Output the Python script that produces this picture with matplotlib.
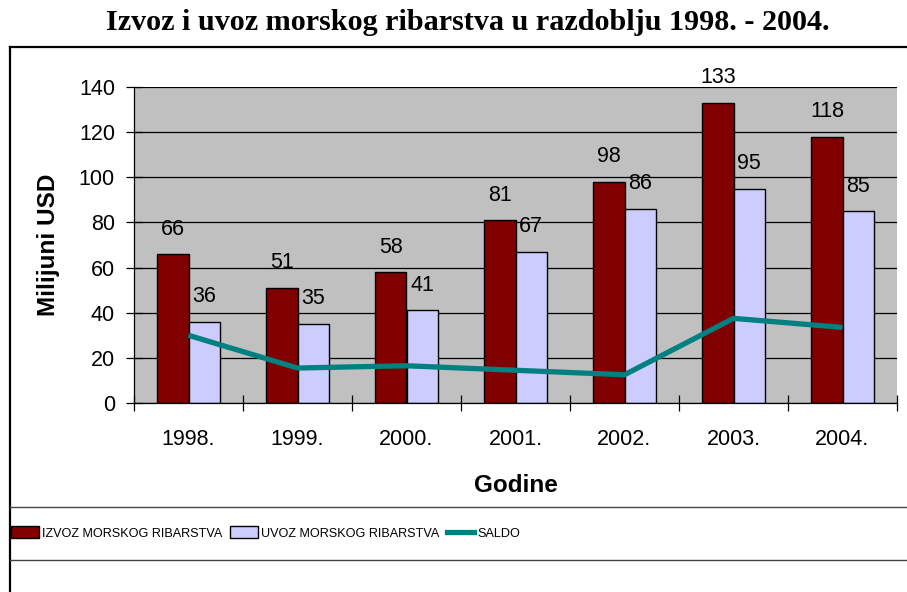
import matplotlib.pyplot as plt
import numpy as np
from matplotlib.lines import Line2D
from matplotlib.patches import Patch

godine = ["1998.", "1999.", "2000.", "2001.", "2002.", "2003.", "2004."]
izvoz = [66, 51, 58, 81, 98, 133, 118]
uvoz = [36, 35, 41, 67, 86, 95, 85]
saldo = [30, 15.5, 16.5, 14.5, 12.5, 37.5, 33.5]

plt.rcParams["font.family"] = ["Liberation Sans", "DejaVu Sans"]

fig = plt.figure(figsize=(9.07, 5.92), dpi=100)
ax = fig.add_axes([134 / 907, 1 - 403 / 592, 763 / 907, 316 / 592])

x = np.arange(len(godine))
w = 0.285
ax.set_facecolor("#C0C0C0")
ax.bar(x - w / 2, izvoz, w, color="#800000", edgecolor="black", linewidth=1.0, zorder=2)
ax.bar(x + w / 2, uvoz, w, color="#CCCCFF", edgecolor="black", linewidth=1.0, zorder=2)
ax.plot(x, saldo, color="#008080", linewidth=3.8, zorder=3, solid_capstyle="butt")

for i in range(len(godine)):
    ax.annotate(str(izvoz[i]), (x[i] - w / 2, izvoz[i]), xytext=(0, 18),
                textcoords="offset points", ha="center", va="center", fontsize=15.5)
    ax.annotate(str(uvoz[i]), (x[i] + w / 2, uvoz[i]), xytext=(0, 18),
                textcoords="offset points", ha="center", va="center", fontsize=15.5)

ax.set_xlim(-0.5, 6.5)
ax.set_ylim(0, 140)
ax.set_yticks(range(0, 141, 20))
ax.yaxis.grid(True, color="black", linewidth=0.9, zorder=1)
ax.set_axisbelow(True)

ax.set_xticks(np.arange(-0.5, 7, 1))
ax.set_xticklabels([])
ax.set_xticks(x, minor=True)
ax.set_xticklabels(godine, minor=True)
ax.tick_params(axis="x", which="major", direction="inout", length=11.5, width=0.9)
ax.tick_params(axis="x", which="minor", length=0, pad=19, labelsize=15.5)
ax.tick_params(axis="y", direction="inout", length=11.5, width=0.9, pad=8, labelsize=15.5)

for s in ["top", "right"]:
    ax.spines[s].set_visible(False)
ax.spines["left"].set_linewidth(0.9)
ax.spines["bottom"].set_linewidth(0.9)

ax.set_ylabel("Milijuni USD", fontsize=17.5, fontweight="bold")
ax.yaxis.set_label_coords(-0.097, 0.5)
ax.set_xlabel("Godine", fontsize=17.5, fontweight="bold")
ax.xaxis.set_label_coords(0.5, -0.225)

fig.text(0.516, 1 - 22 / 592, "Izvoz i uvoz morskog ribarstva u razdoblju 1998. - 2004.",
         family="Liberation Serif", fontweight="bold", fontsize=21.7, ha="center", va="center")

# frame around chart + legend band
fig.add_artist(Line2D([10 / 907, 1.0], [1 - 47 / 592, 1 - 47 / 592], color="black", linewidth=1.6))
fig.add_artist(Line2D([10 / 907, 10 / 907], [0, 1 - 47 / 592], color="black", linewidth=1.6))
for yy in [507, 560]:
    fig.add_artist(Line2D([10 / 907, 1.0], [1 - yy / 592, 1 - yy / 592], color="#444444", linewidth=1.0))

handles = [
    Patch(facecolor="#800000", edgecolor="black", linewidth=1.0),
    Patch(facecolor="#CCCCFF", edgecolor="black", linewidth=1.0),
    Line2D([], [], color="#008080", linewidth=3.8),
]
labels = ["IZVOZ MORSKOG RIBARSTVA", "UVOZ MORSKOG RIBARSTVA", "SALDO"]
fig.legend(handles, labels, loc="center left", bbox_to_anchor=(11 / 907, 1 - 533 / 592),
           ncol=3, frameon=False, handlelength=2.2, handleheight=1.1,
           handletextpad=0.25, columnspacing=0.6, borderpad=0, borderaxespad=0,
           fontsize=9.1)

fig.savefig("out.png", dpi=100)
